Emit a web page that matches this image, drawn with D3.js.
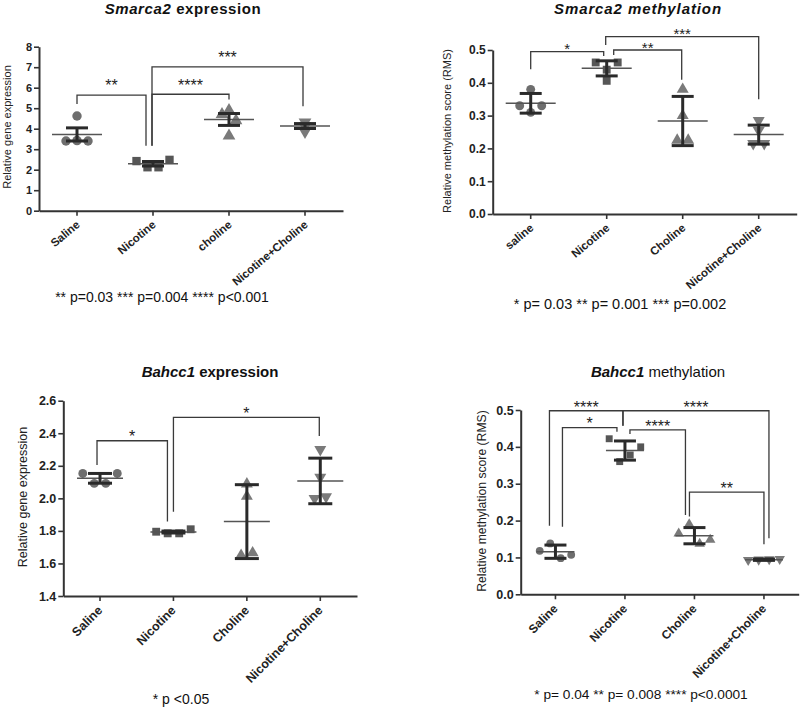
<!DOCTYPE html>
<html><head><meta charset="utf-8">
<script src="https://cdn.jsdelivr.net/npm/d3@7"></script>
<style>body{margin:0;background:#fff}svg{display:block}</style>
</head><body>
<svg id="c" width="800" height="713"></svg>
<script>
// ---------------- DATA ----------------
const groupsSmarca2Expr = ["Saline", "Nicotine", "choline", "Nicotine+Choline"];
const groupsSmarca2Meth = ["saline", "Nicotine", "Choline", "Nicotine+Choline"];
const groupsBahcc1 = ["Saline", "Nicotine", "Choline", "Nicotine+Choline"];

// Smarca2 expression
const smarca2ExprPoints = [[4.62, 3.40, 3.42, 3.40], [2.42, 2.12, 2.12, 2.48], [4.70, 4.90, 4.40, 3.65], [4.32, 4.15, 4.12, 3.86]];
const smarca2ExprMean = [3.72, 2.29, 4.45, 4.13];
const smarca2ExprErr = [0.32, 0.11, 0.29, 0.12];
const smarca2ExprTicks = [0, 1, 2, 3, 4, 5, 6, 7, 8];
const smarca2ExprBrackets = [
  {a: 0, b: 1, y: 5.64, endA: 5.2, endB: 3.17, label: "**"},
  {a: 1, b: 2, y: 5.68, endA: 3.17, endB: 5.43, label: "****"},
  {a: 1, b: 3, y: 7.02, endA: 3.17, endB: 5.1, label: "***"}
];

// Smarca2 methylation
const smarca2MethPoints = [[0.38, 0.33, 0.31, 0.33], [0.462, 0.44, 0.462, 0.406], [0.38, 0.30, 0.225, 0.225], [0.285, 0.255, 0.215, 0.215]];
const smarca2MethMean = [0.3375, 0.444, 0.2835, 0.242];
const smarca2MethErr = [0.030, 0.023, 0.075, 0.029];
const smarca2MethTicks = [0, 0.1, 0.2, 0.3, 0.4, 0.5];
const smarca2MethBrackets = [
  {a: 0, b: 1, y: 0.495, endA: 0.441, endB: 0.482, label: "*"},
  {a: 1, b: 2, y: 0.500, endA: 0.485, endB: 0.409, label: "**"},
  {a: 1, b: 3, y: 0.541, endA: 0.515, endB: 0.350, label: "***"}
];

// Bahcc1 expression
const bahcc1ExprPoints = [[2.153, 2.092, 2.092, 2.153], [1.795, 1.785, 1.785, 1.81], [2.088, 2.012, 1.65, 1.665], [2.30, 2.13, 2.0, 2.01]];
const bahcc1ExprMean = [2.123, 1.793, 1.857, 2.107];
const bahcc1ExprErr = [0.030, 0.006, 0.227, 0.140];
const bahcc1ExprTicks = [1.4, 1.6, 1.8, 2.0, 2.2, 2.4, 2.6];
const bahcc1ExprBrackets = [
  {a: 0, b: 1, y: 2.354, endA: 2.205, endB: 1.857, label: "*"},
  {a: 1, b: 3, y: 2.498, endA: 1.918, endB: 2.383, label: "*"}
];

// Bahcc1 methylation
const bahcc1MethPoints = [[0.118, 0.138, 0.098, 0.107], [0.422, 0.36, 0.378, 0.40], [0.165, 0.19, 0.137, 0.148], [0.093, 0.094, 0.095, 0.096]];
const bahcc1MethMean = [0.1156, 0.390, 0.159, 0.094];
const bahcc1MethErr = [0.018, 0.026, 0.022, 0.002];
const bahcc1MethTicks = [0, 0.1, 0.2, 0.3, 0.4, 0.5];
const bahcc1MethBrackets = [
  {a: 0, b: 1, y: 0.498, endA: 0.186, endB: 0.457, label: "****"},
  {a: 1, b: 3, y: 0.498, endA: 0.457, endB: 0.152, label: "****"},
  {a: 0, b: 1, y: 0.452, endA: 0.183, endB: 0.441, label: "*"},
  {a: 1, b: 2, y: 0.446, endA: 0.435, endB: 0.215, label: "****"},
  {a: 2, b: 3, y: 0.277, endA: 0.211, endB: 0.136, label: "**"}
];

// ---------------- LAYOUT ----------------
const FONT = "'Liberation Sans', Arial, Helvetica, sans-serif";
const svg = d3.select("#c");
svg.append("rect").attr("width", 800).attr("height", 713).attr("fill", "#fff");

const symbolsByGroup = [d3.symbolCircle, d3.symbolSquare, d3.symbolTriangle, d3.symbolTriangle];
const colorsByGroup = ["#6e6e6e", "#565656", "#7a7a7a", "#7a7a7a"];

function clusterOffsets(px, thr, step) {
  const n = px.length;
  const idx = d3.range(n).sort((a, b) => px[a] - px[b]);
  const clusters = [];
  let cur = [idx[0]];
  for (let k = 1; k < n; k++) {
    if (px[idx[k]] - px[idx[k - 1]] < thr) cur.push(idx[k]);
    else { clusters.push(cur); cur = [idx[k]]; }
  }
  clusters.push(cur);
  const off = new Array(n).fill(0);
  clusters.forEach(c => {
    c.sort((a, b) => a - b);
    c.forEach((id, j) => off[id] = (j - (c.length - 1) / 2) * step);
  });
  return off;
}

function drawPanel(cfg) {
  const g = svg.append("g");
  const x = d3.scaleBand().domain(cfg.categories).range(cfg.xRange).padding(0);
  const y = d3.scaleLinear().domain(cfg.yDomain).range(cfg.yRange);
  const cx = i => x(cfg.categories[i]) + x.bandwidth() / 2;
  const y0 = y(cfg.yDomain[0]);

  // y axis
  const ya = g.append("g").attr("transform", `translate(${cfg.xRange[0]},0)`)
    .call(d3.axisLeft(y).tickValues(cfg.ticks).tickFormat(d3.format(cfg.fmt)).tickSize(5).tickSizeOuter(0).tickPadding(2));
  ya.select(".domain").attr("stroke", "#333").attr("stroke-width", 2);
  ya.selectAll(".tick line").attr("stroke", "#333").attr("stroke-width", 1.6);
  ya.selectAll(".tick text").attr("font-family", FONT).attr("font-size", cfg.tickFont)
    .attr("font-weight", "bold").attr("fill", "#222");

  // x axis
  const xa = g.append("g").attr("transform", `translate(0,${y0})`)
    .call(d3.axisBottom(x).tickSize(5).tickSizeOuter(0).tickFormat(""));
  xa.select(".domain").attr("stroke", "#333").attr("stroke-width", 2);
  xa.selectAll(".tick line").attr("stroke", "#333").attr("stroke-width", 1.6);

  g.selectAll("text.xl").data(cfg.categories).join("text").attr("class", "xl")
    .attr("transform", d => `translate(${x(d) + x.bandwidth() / 2 + cfg.xlDx},${y0 + cfg.xlDy}) rotate(${cfg.xlRot})`)
    .attr("text-anchor", "end").attr("dy", "0.35em")
    .attr("font-family", FONT).attr("font-size", cfg.xlFont).attr("font-weight", "bold").attr("fill", "#222")
    .text(d => d);

  // y label
  g.append("text").attr("transform", `translate(${cfg.ylabel.x},${cfg.ylabel.y}) rotate(-90)`)
    .attr("text-anchor", "middle").attr("dy", "0.35em")
    .attr("font-family", FONT).attr("font-size", cfg.ylabel.size).attr("fill", "#222")
    .text(cfg.ylabel.text);

  // title
  const t = g.append("text").attr("x", cfg.title.x).attr("y", cfg.title.y).attr("text-anchor", "middle")
    .attr("font-family", FONT).attr("font-size", cfg.title.size).attr("fill", "#111")
    .attr("letter-spacing", cfg.title.spacing || 0);
  cfg.title.parts.forEach(p => t.append("tspan").attr("font-style", p.italic ? "italic" : "normal")
    .attr("font-weight", p.bold ? "bold" : "normal").text(p.text));

  // footnote
  g.append("text").attr("x", cfg.foot.x).attr("y", cfg.foot.y).attr("text-anchor", "middle")
    .attr("font-family", FONT).attr("font-size", cfg.foot.size).attr("fill", "#111").text(cfg.foot.text);

  // points
  cfg.points.forEach((vals, i) => {
    const px = vals.map(v => y(v));
    const step = cfg.stepByGroup ? cfg.stepByGroup[i] : cfg.step;
    const off = clusterOffsets(px, cfg.thr, step);
    const sym = d3.symbol().type(symbolsByGroup[i]).size(cfg.symSize);
    g.selectAll(null).data(vals).join("path")
      .attr("d", sym)
      .attr("transform", (v, k) => `translate(${cx(i) + off[k]},${y(v)})` + (i === 3 ? " rotate(180)" : ""))
      .attr("fill", colorsByGroup[i]);
  });

  // mean lines and error bars
  cfg.mean.forEach((m, i) => {
    const c = cx(i);
    g.append("line").attr("x1", c - cfg.meanHalf).attr("x2", c + cfg.meanHalf)
      .attr("y1", y(m)).attr("y2", y(m)).attr("stroke", "#555").attr("stroke-width", 1.5);
    const e = cfg.err[i];
    g.append("line").attr("x1", c).attr("x2", c).attr("y1", y(m - e)).attr("y2", y(m + e))
      .attr("stroke", "#2a2a2a").attr("stroke-width", 3);
    [m - e, m + e].forEach(v => g.append("line").attr("x1", c - cfg.capHalf).attr("x2", c + cfg.capHalf)
      .attr("y1", y(v)).attr("y2", y(v)).attr("stroke", "#2a2a2a").attr("stroke-width", 3));
  });

  // significance brackets
  cfg.brackets.forEach((b, k) => {
    const nud = cfg.bracketNudge[k];
    const xa_ = cx(b.a) + nud[0], xb_ = cx(b.b) + nud[1];
    const yy = y(b.y);
    g.append("path")
      .attr("d", `M${xa_},${y(b.endA)}V${yy}H${xb_}V${y(b.endB)}`)
      .attr("fill", "none").attr("stroke", "#3a3a3a").attr("stroke-width", 1.3);
    g.append("text").attr("x", (xa_ + xb_) / 2).attr("y", yy - cfg.starGap + cfg.starSize * 0.58)
      .attr("text-anchor", "middle").attr("font-family", FONT).attr("font-size", cfg.starSize)
      .attr("fill", "#222").text(b.label);
  });
}

drawPanel({
  categories: groupsSmarca2Expr, points: smarca2ExprPoints, mean: smarca2ExprMean, err: smarca2ExprErr,
  ticks: smarca2ExprTicks, brackets: smarca2ExprBrackets,
  bracketNudge: [[0, -7], [-1, 0], [-1, -2]],
  xRange: [39, 343], yRange: [210.7, 46.7], yDomain: [0, 8], fmt: "d",
  tickFont: 11, xlFont: 11.5, xlRot: -40, xlDx: 1, xlDy: 12,
  ylabel: {x: 7, y: 127, size: 11, text: "Relative gene expression"},
  title: {x: 183, y: 14, size: 15, spacing: 0.6, parts: [{text: "Smarca2", italic: true, bold: true}, {text: " expression", bold: true}]},
  foot: {x: 162, y: 302, size: 14, text: "** p=0.03 *** p=0.004 **** p<0.001"},
  thr: 10, step: 11, stepByGroup: [11, 11, 7, 0], symSize: 70, meanHalf: 25, capHalf: 11, starGap: 13, starSize: 16
});

drawPanel({
  categories: groupsSmarca2Meth, points: smarca2MethPoints, mean: smarca2MethMean, err: smarca2MethErr,
  ticks: smarca2MethTicks, brackets: smarca2MethBrackets,
  bracketNudge: [[0, -3], [7, -1], [-1, 0]],
  xRange: [492.7, 796.7], yRange: [214, 50], yDomain: [0, 0.5], fmt: ".1f",
  tickFont: 12, xlFont: 11.5, xlRot: -40, xlDx: 1, xlDy: 12,
  ylabel: {x: 447, y: 131, size: 11, text: "Relative methylation score (RMS)"},
  title: {x: 638, y: 14, size: 15, spacing: 0.9, parts: [{text: "Smarca2 methylation", italic: true, bold: true}]},
  foot: {x: 620, y: 309, size: 14.5, text: "* p= 0.03 ** p= 0.001 *** p=0.002"},
  thr: 9, step: 11, symSize: 62, meanHalf: 25, capHalf: 11, starGap: 6, starSize: 15
});

drawPanel({
  categories: groupsBahcc1, points: bahcc1ExprPoints, mean: bahcc1ExprMean, err: bahcc1ExprErr,
  ticks: bahcc1ExprTicks, brackets: bahcc1ExprBrackets,
  bracketNudge: [[-3, -6], [0, -1]],
  xRange: [63.3, 357], yRange: [596, 400.7], yDomain: [1.4, 2.6], fmt: ".1f",
  tickFont: 12.5, xlFont: 12.5, xlRot: -45, xlDx: 0, xlDy: 12,
  ylabel: {x: 23, y: 497, size: 12.5, text: "Relative gene expression"},
  title: {x: 210, y: 377, size: 15, parts: [{text: "Bahcc1", italic: true, bold: true}, {text: " expression", bold: true}]},
  foot: {x: 181, y: 704, size: 14, text: "* p <0.05"},
  thr: 11, step: 11.5, symSize: 62, meanHalf: 23, capHalf: 12, starGap: 8, starSize: 16
});

drawPanel({
  categories: groupsBahcc1, points: bahcc1MethPoints, mean: bahcc1MethMean, err: bahcc1MethErr,
  ticks: bahcc1MethTicks, brackets: bahcc1MethBrackets,
  bracketNudge: [[-6, -2], [-2, 5], [7, -8], [5, -9], [-5, 0]],
  xRange: [520.7, 798.7], yRange: [594.3, 410], yDomain: [0, 0.5], fmt: ".1f",
  tickFont: 12.5, xlFont: 12, xlRot: -45, xlDx: 0, xlDy: 12,
  ylabel: {x: 482, y: 501, size: 12.2, text: "Relative methylation score (RMS)"},
  title: {x: 658, y: 377, size: 15, parts: [{text: "Bahcc1", italic: true, bold: true}, {text: " methylation", bold: false}]},
  foot: {x: 641, y: 699, size: 13.7, text: "* p= 0.04 ** p= 0.008 **** p<0.0001"},
  thr: 10, step: 10.5, symSize: 48, meanHalf: 19, capHalf: 11, starGap: 7.5, starSize: 16
});
</script>
</body></html>
